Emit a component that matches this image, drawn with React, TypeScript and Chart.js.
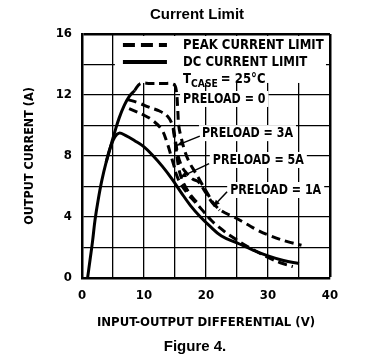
import React, { useEffect, useRef } from "react";
import { Chart, registerables } from "chart.js";
Chart.register(...registerables);

// ---- axes ----
const X_MIN = 0, X_MAX = 40, X_STEP = 5, X_LABEL_EVERY = 10;
const Y_MIN = 0, Y_MAX = 16, Y_STEP = 2, Y_LABEL_EVERY = 4;

const chartTitle = "Current Limit";
const figureCaption = "Figure 4.";
const xTitle = "INPUT-OUTPUT DIFFERENTIAL (V)";
const yTitle = "OUTPUT CURRENT (A)";

// ---- DC current limit (solid) ----
const dcX = [0.9, 1.3, 1.7, 2.1, 2.6, 3.2, 3.9, 4.6, 5.3, 6.0, 7.0, 8.5, 10.0, 11.5, 13.0, 14.5, 16.0, 17.5, 19.0, 20.5, 22.5, 25.0, 27.5, 30.0, 32.5, 35.0];
const dcY = [0.0, 1.2, 2.4, 3.8, 5.1, 6.4, 7.6, 8.6, 9.25, 9.5, 9.35, 9.0, 8.6, 8.0, 7.3, 6.5, 5.6, 4.75, 4.05, 3.45, 2.75, 2.3, 1.85, 1.45, 1.15, 0.95];

// ---- peak current, rising part (solid) ----
const riseX = [3.9, 4.6, 5.3, 6.0, 6.8, 7.6, 8.5];
const riseY = [7.6, 8.6, 9.6, 10.5, 11.3, 11.9, 12.3];

// ---- peak current, preload = 0 (dashed) ----
const peak0X = [8.5, 9.4, 11.0, 13.0, 14.8, 15.2, 15.45, 15.6, 16.0, 16.6, 17.3, 18.3, 19.3, 20.3, 21.2, 22.5, 24.5, 26.5, 28.5, 30.5, 33.0, 35.4];
const peak0Y = [12.3, 12.75, 12.75, 12.75, 12.7, 12.3, 11.0, 10.0, 9.2, 8.3, 7.6, 6.9, 6.2, 5.5, 4.9, 4.4, 4.0, 3.55, 3.1, 2.75, 2.4, 2.15];

// ---- peak current, second curve (dashed) ----
const peak1X = [7.4, 9.0, 10.8, 12.5, 13.8, 14.6, 15.0, 15.4, 15.9, 16.6, 17.8, 18.8, 19.8, 21.0, 22.2];
const peak1Y = [11.7, 11.5, 11.2, 10.95, 10.6, 10.0, 9.2, 8.2, 7.5, 7.0, 6.5, 6.3, 5.7, 4.95, 4.45];

// ---- peak current, third curve (dashed) ----
const peak2X = [7.6, 9.9, 11.5, 12.9, 13.7, 14.3, 14.8, 15.3, 15.9, 17.0, 18.2, 19.3, 20.8, 21.9, 24.0, 27.0, 30.0, 32.0, 34.0];
const peak2Y = [11.1, 10.7, 10.3, 9.7, 8.9, 8.1, 7.4, 6.7, 6.2, 5.55, 5.0, 4.5, 3.8, 3.4, 2.75, 2.0, 1.35, 1.0, 0.75];

// ---- peak current, fourth curve (dashed) ----
const peak3X = [14.7, 15.2, 15.6, 16.1, 16.8, 17.8, 18.8];
const peak3Y = [9.8, 8.4, 7.2, 6.5, 5.9, 5.3, 4.85];

// ---- annotations ----
const legendLabels = ["PEAK CURRENT LIMIT", "DC CURRENT LIMIT"];
const preloadLabels = ["PRELOAD = 0", "PRELOAD = 3A", "PRELOAD = 5A", "PRELOAD = 1A"];
const preloadLabelX = [16.3, 19.35, 21.1, 23.9];
const preloadLabelY = [11.74, 9.5, 7.74, 5.77];
const arrowFromX = [null, 19.0, 20.5, 23.4];
const arrowFromY = [null, 9.3, 7.5, 5.65];
const arrowToX = [null, 15.3, 15.8, 21.2];
const arrowToY = [null, 8.7, 6.6, 4.7];

const NARROW = "'Liberation Sans Narrow', 'Arial Narrow', 'DejaVu Sans Condensed', sans-serif";
const SANS = "'Liberation Sans', Arial, sans-serif";
const LEGEND_SQUEEZE = 0.93;
const LABEL_SQUEEZE = 0.88;

const zip = (xs: number[], ys: number[]) => xs.map((x, i) => ({ x, y: ys[i] }));

function squeezedText(ctx: CanvasRenderingContext2D, t: string, x: number, y: number, sx: number) {
  ctx.save();
  ctx.translate(x, y);
  ctx.scale(sx, 1);
  ctx.fillText(t, 0, 0);
  ctx.restore();
  return ctx.measureText(t).width * sx;
}

const annotPlugin = {
  id: "annot",
  beforeDatasetsDraw(chart: any) {
    const { ctx, scales } = chart;
    const x = scales.x, y = scales.y;
    ctx.save();
    ctx.fillStyle = "#fff";
    const bx0 = x.getPixelForValue(5.3), bx1 = x.getPixelForValue(39.35);
    const by0 = y.getPixelForValue(15.87), by1 = y.getPixelForValue(12.79);
    ctx.fillRect(bx0, by0, bx1 - bx0, by1 - by0);
    ctx.font = `bold 14px ${NARROW}`;
    preloadLabels.forEach((t, i) => {
      const px = x.getPixelForValue(preloadLabelX[i]);
      const py = y.getPixelForValue(preloadLabelY[i]);
      const w = ctx.measureText(t).width * LABEL_SQUEEZE;
      ctx.fillRect(px - 3, py - 8, w + 6, 16);
    });
    ctx.restore();
  },
  afterDatasetsDraw(chart: any) {
    const { ctx, scales } = chart;
    const x = scales.x, y = scales.y;
    ctx.save();
    ctx.fillStyle = "#000";
    ctx.strokeStyle = "#000";
    ctx.textBaseline = "middle";
    ctx.textAlign = "left";
    const sx0 = x.getPixelForValue(6.6), sx1 = x.getPixelForValue(13.7);
    const tx = x.getPixelForValue(16.3);
    const ly = [15.28, 14.16, 13.05].map((v) => y.getPixelForValue(v));
    ctx.lineWidth = 4;
    ctx.setLineDash([12, 6]);
    ctx.beginPath(); ctx.moveTo(sx0, ly[0]); ctx.lineTo(sx1, ly[0]); ctx.stroke();
    ctx.setLineDash([]);
    ctx.beginPath(); ctx.moveTo(sx0, ly[1]); ctx.lineTo(sx1, ly[1]); ctx.stroke();
    ctx.font = `bold 14px ${NARROW}`;
    squeezedText(ctx, legendLabels[0], tx, ly[0], LEGEND_SQUEEZE);
    squeezedText(ctx, legendLabels[1], tx, ly[1], LEGEND_SQUEEZE);
    let cx = tx;
    cx += squeezedText(ctx, "T", cx, ly[2], LEGEND_SQUEEZE);
    ctx.font = `bold 11px ${NARROW}`;
    cx += squeezedText(ctx, "CASE", cx, ly[2] + 5, LEGEND_SQUEEZE) + 3;
    ctx.font = `bold 14px ${NARROW}`;
    squeezedText(ctx, "= 25°C", cx, ly[2], LEGEND_SQUEEZE);
    preloadLabels.forEach((t, i) => {
      squeezedText(ctx, t, x.getPixelForValue(preloadLabelX[i]), y.getPixelForValue(preloadLabelY[i]), LABEL_SQUEEZE);
    });
    ctx.lineWidth = 1.5;
    for (let i = 0; i < arrowFromX.length; i++) {
      if (arrowFromX[i] === null) continue;
      const x0 = x.getPixelForValue(arrowFromX[i]), y0 = y.getPixelForValue(arrowFromY[i]);
      const x1 = x.getPixelForValue(arrowToX[i]), y1 = y.getPixelForValue(arrowToY[i]);
      ctx.beginPath(); ctx.moveTo(x0, y0); ctx.lineTo(x1, y1); ctx.stroke();
      const a = Math.atan2(y1 - y0, x1 - x0);
      ctx.beginPath();
      ctx.moveTo(x1, y1);
      ctx.lineTo(x1 - 7 * Math.cos(a - 0.4), y1 - 7 * Math.sin(a - 0.4));
      ctx.lineTo(x1 - 7 * Math.cos(a + 0.4), y1 - 7 * Math.sin(a + 0.4));
      ctx.closePath(); ctx.fill();
    }
    ctx.restore();
  },
  afterDraw(chart: any) {
    const { ctx } = chart;
    ctx.save();
    ctx.fillStyle = "#000";
    ctx.textAlign = "center";
    ctx.textBaseline = "middle";
    ctx.font = `bold 15px ${SANS}`;
    ctx.fillText(chartTitle, 197, 15);
    ctx.fillText(figureCaption, 195, 347);
    ctx.restore();
  },
};

export default function App() {
  const ref = useRef<HTMLCanvasElement>(null);
  useEffect(() => {
    if (!ref.current) return;
    const solid = { borderColor: "#000", borderWidth: 3, pointRadius: 0, tension: 0.4, fill: false };
    const dashed = { ...solid, borderDash: [9, 5] };
    const chart = new Chart(ref.current, {
      type: "line",
      data: {
        datasets: [
          { label: "DC current limit", data: zip(dcX, dcY), ...solid },
          { label: "Peak rising", data: zip(riseX, riseY), ...solid },
          { label: "Peak preload 0", data: zip(peak0X, peak0Y), ...dashed },
          { label: "Peak 2", data: zip(peak1X, peak1Y), ...dashed },
          { label: "Peak 3", data: zip(peak2X, peak2Y), ...dashed },
          { label: "Peak 4", data: zip(peak3X, peak3Y), ...dashed },
        ],
      },
      options: {
        animation: false,
        responsive: true,
        maintainAspectRatio: false,
        layout: { padding: { top: 34, right: 40, bottom: 28, left: 0 } },
        plugins: { legend: { display: false }, title: { display: false }, tooltip: { enabled: false } },
        scales: {
          x: {
            type: "linear",
            min: X_MIN, max: X_MAX,
            afterFit: (s: any) => { s.height = 58; },
            ticks: {
              stepSize: X_STEP,
              padding: 10,
              color: "#000",
              font: { family: NARROW, size: 13, weight: "bold" },
              callback: (v: any) => (v % X_LABEL_EVERY === 0 ? String(v) : ""),
              maxRotation: 0,
              autoSkip: false,
            },
            grid: {
              color: "#000",
              lineWidth: (c: any) => (c.tick && c.tick.value === X_MAX ? 2.5 : 1.3),
              drawTicks: false,
            },
            border: { display: true, color: "#000", width: 2.5 },
            title: {
              display: true, text: xTitle, color: "#000",
              font: { family: NARROW, size: 13, weight: "bold" },
              padding: { top: 0, bottom: 6 },
            },
          },
          y: {
            min: Y_MIN, max: Y_MAX,
            afterFit: (s: any) => { s.width = 82; },
            ticks: {
              stepSize: Y_STEP,
              padding: 10,
              color: "#000",
              font: { family: NARROW, size: 13, weight: "bold" },
              callback: (v: any) => (v % Y_LABEL_EVERY === 0 ? String(v) : ""),
              autoSkip: false,
            },
            grid: {
              color: "#000",
              lineWidth: (c: any) => (c.tick && c.tick.value === Y_MAX ? 2.5 : 1.3),
              drawTicks: false,
            },
            border: { display: true, color: "#000", width: 2.5 },
            title: {
              display: true, text: yTitle, color: "#000",
              font: { family: NARROW, size: 12.5, weight: "bold" },
              padding: { top: 22, bottom: 0 },
            },
          },
        },
      },
      plugins: [annotPlugin],
    });
    return () => chart.destroy();
  }, []);
  return (
    <div style={{ position: "fixed", left: 0, top: 0, width: 370, height: 364, background: "#fff" }}>
      <canvas ref={ref} />
    </div>
  );
}
